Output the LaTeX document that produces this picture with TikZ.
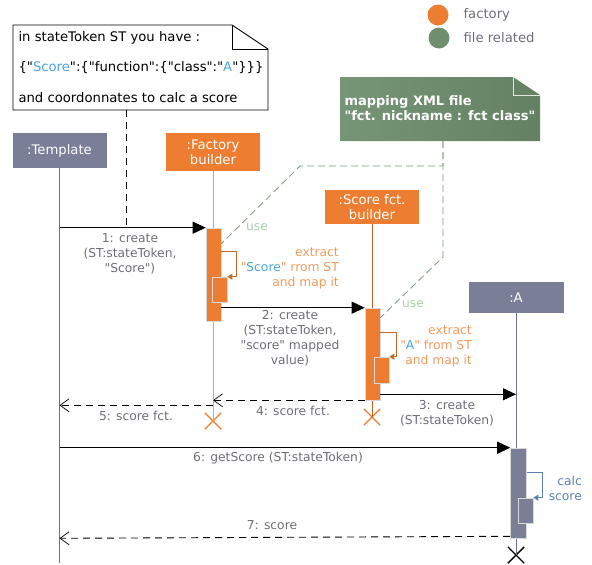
\documentclass[tikz,border=0pt]{standalone}
\usepackage{fontspec}
\setmainfont{DejaVu Sans}[Ligatures=TeXOff]
\usetikzlibrary{arrows.meta}
\usetikzlibrary{shapes.misc}

\definecolor{factorange}{HTML}{ED7D31}
\definecolor{headgray}{HTML}{7A7E96}
\definecolor{filegreen}{HTML}{6F8F6F}
\definecolor{msgtext}{HTML}{6E6E7A}
\definecolor{extorange}{HTML}{F29A5E}
\definecolor{keyblue}{HTML}{4DA3E0}
\definecolor{usegreen}{HTML}{A8CCA8}
\definecolor{linkgreen}{HTML}{789878}
\definecolor{calcblue}{HTML}{5A82B0}

\begin{document}
\begin{tikzpicture}[x=1pt,y=-1pt,>=stealth,
    big/.style={font=\fontsize{13.2}{15}\selectfont},
    small/.style={font=\fontsize{12.3}{15}\selectfont,text=msgtext,align=center,inner sep=0},
    head/.style={big,text=white,align=center,minimum width=94,inner sep=0},
    bar/.style={draw=white!85!black,line width=0.6,minimum width=15,inner sep=0},
    msg/.style={line width=0.9,-{Triangle[length=13pt,width=12pt]}},
    reply/.style={line width=0.9,dash pattern=on 7pt off 5pt,-{Straight Barb[length=9pt,width=13pt,line width=0.7]}},
    selfloop/.style={line width=0.8,-{Triangle[length=5pt,width=6pt]}},
    lifeline/.style={line width=1},
    kill/.style={cross out,draw,line width=1.4,minimum size=15pt,inner sep=0},
    uselink/.style={linkgreen,line width=0.8,dash pattern=on 7pt off 4pt}]
\useasboundingbox (0,0) rectangle (592,565);

% legend
\node[circle,fill=factorange,minimum size=21,inner sep=0] (lgfact) at (438,15) {};
\node[circle,fill=filegreen,minimum size=21,inner sep=0] (lgfile) at (439,38) {};
\node[big,text=msgtext,anchor=west] (lgfacttext) at (460,15) {factory};
\node[big,text=msgtext,anchor=west] (lgfiletext) at (460,38) {file related};

% note: state token
\draw[fill=white,line width=0.9] (13,25) -- (232,25) -- (268,49) -- (268,110) -- (13,110) -- cycle;
\draw[line width=0.9] (232,25) -- (232,49) -- (268,49);
\node[big,anchor=west] (stl1) at (15,38) {in stateToken ST you have :};
\node[big,anchor=west] (stl2) at (15,68) {\{"\textcolor{keyblue}{Score}":\{"function":\{"class":"\textcolor{keyblue}{A}"\}\}\}};
\node[big,anchor=west] (stl3) at (15,98) {and coordonnates to calc a score};
\coordinate (stnote) at (126,110);

% note: mapping file
\shade[left color=filegreen!95!white,right color=filegreen!90!black] (340,77) -- (513,77) -- (540,95) -- (540,141) -- (340,141) -- cycle;
\draw[white!80!filegreen,line width=0.8] (513,77) -- (513,95) -- (540,95);
\node[big,text=white,font=\fontsize{13}{15}\selectfont\bfseries,anchor=west,align=left] (mapnote) at (341,108.5) {mapping XML file\\"fct. nickname : fct class"};
\coordinate (mapnotebot) at (443,141);

% participants
\node[head,fill=headgray,minimum height=35] (tpl) at (59.5,150.5) {:Template};
\node[head,fill=factorange,minimum height=38] (fab) at (213,152) {:Factory\\builder};
\node[head,fill=factorange,minimum height=34] (sfb) at (372,207) {:Score fct.\\builder};
\node[head,fill=headgray,minimum height=31,minimum width=95] (cla) at (516,297.5) {:A};

% ends
\node[kill,draw=factorange] (fabx) at (213,421) {};
\node[kill,draw=factorange] (sfbx) at (372,417) {};
\node[kill,draw=black] (clax) at (516,555) {};
\coordinate (tplend) at (59.5,563);

% lifelines
\draw[lifeline,headgray!90!black] (tpl) -- (tplend);
\draw[lifeline,extorange] (fab) -- (fabx.center);
\draw[lifeline,factorange!80!black] (sfb) -- (sfbx.center);
\draw[lifeline,headgray!90!black] (cla) -- (clax.center);

% activations
\node[bar,fill=factorange,minimum height=93] (fab1) at (213.5,274.5) {};
\node[bar,fill=factorange,minimum height=25] (fab2) at (219.5,289.5) {};
\node[bar,fill=factorange,minimum height=92] (sfb1) at (372.5,354) {};
\node[bar,fill=factorange,minimum height=26] (sfb2) at (381.5,370) {};
\node[bar,fill=headgray,minimum height=90,minimum width=16] (cla1) at (518.5,493) {};
\node[bar,fill=headgray,minimum height=25] (cla2) at (525.5,510.5) {};

% note links
\draw[line width=0.9,dash pattern=on 7pt off 5pt] (stnote) -- (stnote |- fab1.north);
\draw[uselink] (mapnotebot) |- (300,166) -- ([yshift=-16pt]fab1.north east);
\draw[uselink] (mapnotebot) -- (443,257) -- ([yshift=-10pt]sfb1.north east);
\node[small,text=usegreen] (use1) at (257,227) {use};
\node[small,text=usegreen] (use2) at (413,304) {use};

% messages
\draw[msg] (tpl.south |- fab1.north) -- (fab1.north west);
\node[small] (m1) at (130,254) {1: create\\(ST:stateToken,\\"Score")};
\draw[selfloop,factorange!85!black] ([yshift=-24pt]fab1.north east) -- ++(15,0) |- (fab2.north east);
\node[small,text=extorange,align=right,anchor=east] (ext1) at (339,268) {extract\\"\textcolor{keyblue}{Score}" rrom ST\\and map it};

\draw[msg] (fab1.east |- sfb1.north) -- (sfb1.north west);
\node[small] (m2) at (290,338.5) {2: create\\(ST:stateToken,\\"score" mapped\\value)};
\draw[selfloop,factorange!85!black] ([yshift=-25pt]sfb1.north east) -- ++(16,0) |- (sfb2.north east);
\node[small,text=extorange,align=right,anchor=east] (ext2) at (472,346) {extract\\"\textcolor{keyblue}{A}" from ST\\and map it};

\coordinate (m3start) at ([yshift=6pt]sfb1.south east);
\draw[msg] (m3start) -- (cla.south |- m3start);
\node[small] (m3) at (447,413.5) {3: create\\(ST:stateToken)};

\draw[reply] (sfb1.south west) -- (fab.south |- sfb1.south);
\node[small] (m4) at (293,411) {4: score fct.};

\coordinate (m5start) at ([yshift=-5pt]fab.south |- sfb1.south);
\draw[reply] (m5start) -- (tpl.south |- m5start);
\node[small] (m5) at (136,416) {5: score fct.};

\draw[msg] (tpl.south |- cla1.north) -- (cla1.north west);
\node[small] (m6) at (278,458) {6: getScore (ST:stateToken)};
\draw[selfloop,calcblue] ([yshift=-25pt]cla1.north east) -- ++(16,0) |- (cla2.north east);
\node[small,text=calcblue,align=right,anchor=east] (calc) at (582,488) {calc\\score};

\draw[reply] ([yshift=2pt]cla1.south west) -- (tpl.south |- cla1.south);
\node[small] (m7) at (272,525) {7: score};
\end{tikzpicture}
\end{document}
